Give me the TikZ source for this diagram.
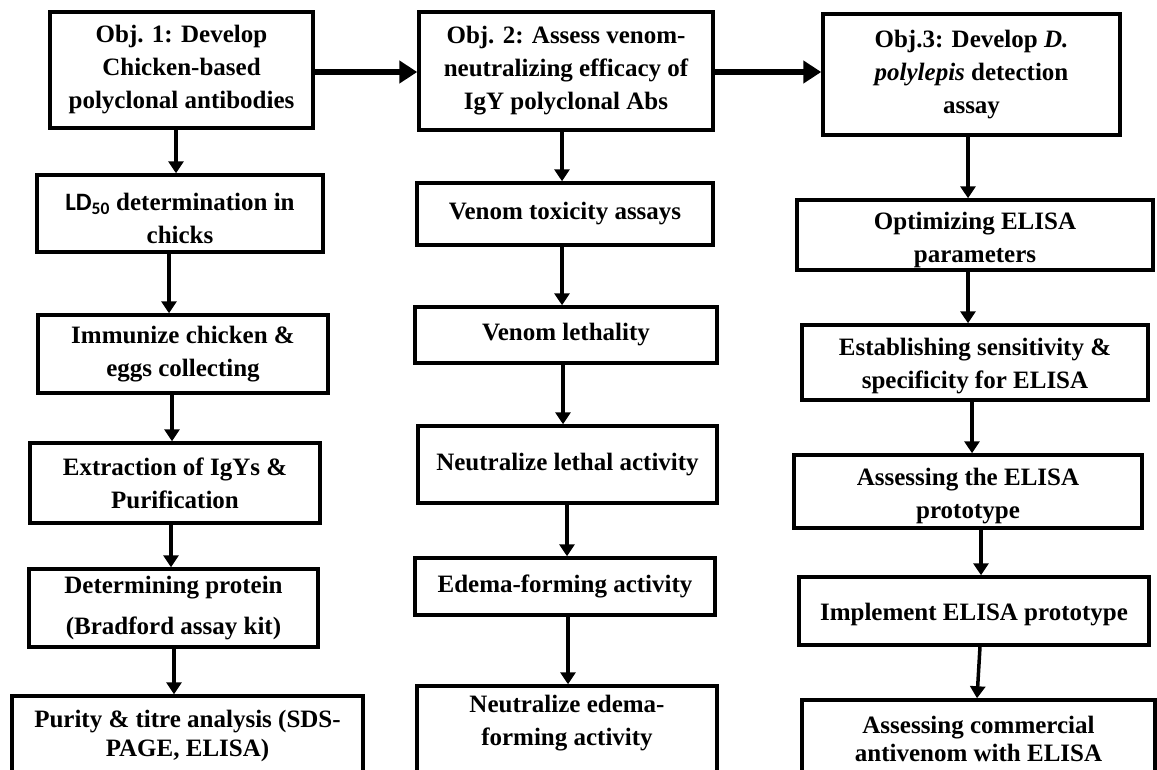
\documentclass[tikz,border=0pt]{standalone}
\usepackage{fontspec}
\setmainfont{Liberation Serif}
\newfontfamily\calibri{Carlito}
\usetikzlibrary{arrows.meta}
\tikzset{
    x=1pt, y=-1pt, % one unit is one pixel of the sketch, y grows downwards
    box/.style={draw, line width=3.5pt, align=center, inner sep=0pt,
        font=\bfseries\fontsize{25}{33}\selectfont}, % every step of the plan
    tight/.style={font=\bfseries\fontsize{25}{28.5}\selectfont}, % the cut boxes at the bottom
    down/.style={-{Triangle[length=12pt, width=15pt]}, line width=3.5pt}, % arrows inside a column
    across/.style={-{Triangle[length=18pt, width=22pt]}, line width=6.5pt}, % arrows between the objectives
}
\begin{document}
\begin{tikzpicture}
    \clip (0,0) rectangle (1157,769);
    \fill[white] (0,0) rectangle (1157,769);
    % objective 1
    \node[box, minimum width=263pt, minimum height=116pt] (obj1) at (181.5,70) {Obj. 1: Develop\\ Chicken-based\\ polyclonal antibodies};
    \node[box, minimum width=286pt, minimum height=77pt] (ld) at (180,213.5) {\rule{0pt}{27pt}{\calibri LD\textsubscript{50}} determination in\\ chicks};
    \node[box, minimum width=290pt, minimum height=78pt] (immun) at (183,354) {Immunize chicken \&\\ eggs collecting};
    \node[box, minimum width=290pt, minimum height=80pt] (extr) at (175,483) {Extraction of IgYs \&\\ Purification};
    \node[box, minimum width=289pt, minimum height=78pt] (prot) at (173.5,608) {Determining protein\\[8pt] (Bradford assay kit)};
    \node[box, tight, minimum width=351pt, minimum height=80pt] (purity) at (187.5,736) {Purity \& titre analysis (SDS-\\ PAGE, ELISA)};
    % objective 2
    \node[box, minimum width=294pt, minimum height=118pt] (obj2) at (566,71) {Obj. 2: Assess venom-\\ neutralizing efficacy of\\ IgY polyclonal Abs};
    \node[box, minimum width=296pt, minimum height=62pt] (tox) at (565,214) {Venom toxicity assays};
    \node[box, minimum width=302pt, minimum height=56pt] (leth) at (566,335) {Venom lethality};
    \node[box, minimum width=299pt, minimum height=77pt] (nleth) at (567.5,464.5) {Neutralize lethal activity};
    \node[box, minimum width=300pt, minimum height=57pt] (edema) at (565,586.5) {Edema-forming activity};
    \node[box, minimum width=300pt, minimum height=102pt] (nedema) at (567,737) {Neutralize edema-\\ forming activity\\ \mbox{}};
    % objective 3
    \node[box, minimum width=297pt, minimum height=121pt] (obj3) at (971.5,74.5) {Obj.3: Develop \textit{D.}\\ \textit{polylepis} detection\\ assay};
    \node[box, minimum width=356pt, minimum height=70pt] (optim) at (975,235) {\rule{0pt}{27pt}Optimizing ELISA\\ parameters};
    \node[box, minimum width=346pt, minimum height=75pt] (sens) at (975,362.5) {\rule{0pt}{25pt}Establishing sensitivity \&\\ specificity for ELISA};
    \node[box, minimum width=348pt, minimum height=73pt] (proto) at (968,491.5) {\rule{0pt}{27pt}Assessing the ELISA\\ prototype};
    \node[box, minimum width=350pt, minimum height=68pt] (impl) at (974,611) {\rule{0pt}{25pt}Implement ELISA prototype};
    \node[box, tight, minimum width=353pt, minimum height=78pt] (comm) at (978.5,739) {Assessing commercial\\ antivenom with ELISA};
    % connectors
    \draw[across] ([yshift=-2pt]obj1.east) -- ([yshift=-1pt]obj2.west);
    \draw[across] ([yshift=-1pt]obj2.east) -- ([yshift=2.5pt]obj3.west);
    \draw[down] ([xshift=-5.5pt]obj1.south) -- ([xshift=-4pt]ld.north);
    \draw[down] ([xshift=-11pt]ld.south) -- ([xshift=-14pt]immun.north);
    \draw[down] ([xshift=-11pt]immun.south) -- ([xshift=-3pt]extr.north);
    \draw[down] ([xshift=-4pt]extr.south) -- ([xshift=-2.5pt]prot.north);
    \draw[down] ([xshift=0.5pt]prot.south) -- ([xshift=-13.5pt]purity.north);
    \draw[down] ([xshift=-4pt]obj2.south) -- ([xshift=-3pt]tox.north);
    \draw[down] ([xshift=-3pt]tox.south) -- ([xshift=-4pt]leth.north);
    \draw[down] ([xshift=-3pt]leth.south) -- ([xshift=-4.5pt]nleth.north);
    \draw[down] ([xshift=-0.5pt]nleth.south) -- ([xshift=2pt]edema.north);
    \draw[down] ([xshift=3pt]edema.south) -- ([xshift=1pt]nedema.north);
    \draw[down] ([xshift=-3.5pt]obj3.south) -- ([xshift=-7pt]optim.north);
    \draw[down] ([xshift=-7pt]optim.south) -- ([xshift=-7pt]sens.north);
    \draw[down] ([xshift=-3pt]sens.south) -- ([xshift=4pt]proto.north);
    \draw[down] ([xshift=13pt]proto.south) -- ([xshift=7pt]impl.north);
    \draw[down] ([xshift=6pt]impl.south) -- ([xshift=-1.5pt]comm.north);
\end{tikzpicture}
\end{document}
